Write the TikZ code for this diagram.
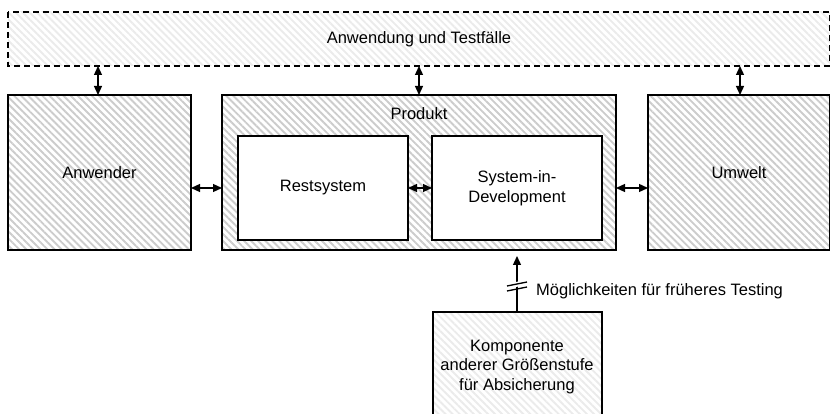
\documentclass[tikz,border=0pt]{standalone}
\usepackage{fontspec}
\setmainfont{Liberation Sans}
\usetikzlibrary{patterns.meta,arrows.meta}
\begin{document}
\begin{tikzpicture}[x=1pt,y=1pt,
  txt/.style={font=\fontsize{16.5}{19.5}\selectfont, align=center, inner sep=0pt},
  hatched/.style={draw=black, line width=1.6pt,
    pattern={Lines[angle=-45,distance=5pt,line width=1.9pt]}, pattern color=black!20},
  lighthatch/.style={pattern={Lines[angle=-45,distance=5pt,line width=1.9pt]}, pattern color=black!8},
  plainbox/.style={draw=black, line width=1.6pt, fill=white},
  link/.style={line width=1.3pt, {Triangle[length=9pt,width=8pt]}-{Triangle[length=9pt,width=8pt]}},
  uplink/.style={line width=1.3pt, -{Triangle[length=9pt,width=8pt]}}
]
\useasboundingbox (0,0) rectangle (831,-414);

% top frame: application and test cases
\path[lighthatch] (8,-12) rectangle (829.5,-66);
\draw[line width=1.6pt, dash pattern=on 6pt off 4pt] (8,-12) rectangle (829.5,-66);
\node[txt] (topl) at (419,-39) {Anwendung und Testfälle};
\coordinate (topA) at (98,-66);
\coordinate (topP) at (419,-66);
\coordinate (topU) at (740,-66);

% three main blocks
\draw[hatched] (8,-95) rectangle (191,-250);
\coordinate (anwE) at (191,-188);
\coordinate (anwN) at (98,-95);
\node[txt] (anw) at (99.5,-173) {Anwender};

\draw[hatched] (222,-95) rectangle (616,-250);
\coordinate (prodW) at (222,-188);
\coordinate (prodE) at (616,-188);
\coordinate (prodN) at (419,-95);
\coordinate (prodS) at (517,-250);
\node[txt] (prod) at (419,-114) {Produkt};

\draw[hatched] (648,-95) rectangle (829.5,-250);
\coordinate (umwW) at (648,-188);
\coordinate (umwN) at (740,-95);
\node[txt] (umw) at (739,-173) {Umwelt};

% inner blocks of the product
\draw[plainbox] (238,-136) rectangle (408,-240);
\coordinate (restE) at (408,-188);
\node[txt] (rest) at (323,-188) {Restsystem};

\draw[plainbox] (432,-136) rectangle (602,-240);
\coordinate (sidW) at (432,-188);
\node[txt] (sid) at (517,-188) {System-in-\\Development};

% component of another size level (lower edge lies below the page)
\path[lighthatch] (433,-312) rectangle (602,-420);
\draw[line width=1.6pt] (433,-420) -- (433,-312) -- (602,-312) -- (602,-420);
\coordinate (compN) at (517,-312);
\node[txt] (comp) at (517,-367) {Komponente\\anderer Größenstufe\\für Absicherung};

% connectors
\draw[link] (topA) -- (anwN);
\draw[link] (topP) -- (prodN);
\draw[link] (topU) -- (umwN);
\draw[link] (anwE) -- (prodW);
\draw[link] (restE) -- (sidW);
\draw[link] (prodE) -- (umwW);

% interrupted arrow: earlier testing possibilities
\draw[uplink, shorten >=6pt] (compN) -- (prodS);
\fill[white] (509,-288.4) -- (525,-285.2) -- (525,-280.2) -- (509,-283.4) -- cycle;
\draw[line width=1.3pt] (507,-286) -- (527,-282);
\draw[line width=1.3pt] (507,-291) -- (527,-287);
\node[txt, anchor=west] (lbl) at (536,-291) {Möglichkeiten für früheres Testing};
\end{tikzpicture}
\end{document}
